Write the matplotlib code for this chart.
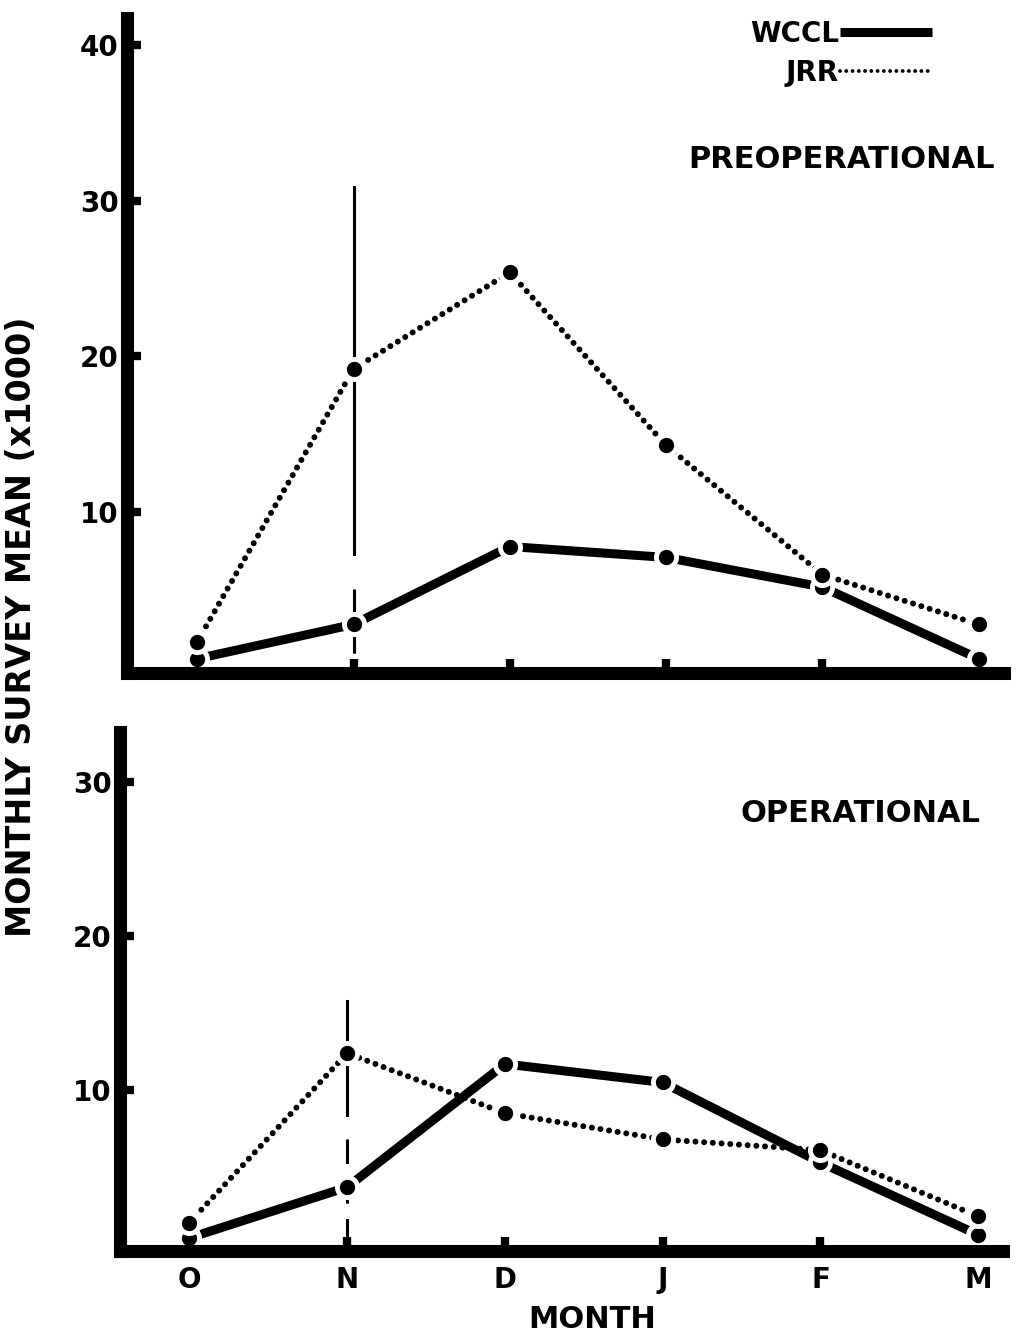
import matplotlib
matplotlib.use("Agg")
import matplotlib.pyplot as plt
from matplotlib.lines import Line2D

# ---------------- data ----------------
months = ['O', 'N', 'D', 'J', 'F', 'M']
pre_wccl = [0.6, 2.8, 7.8, 7.1, 5.2, 0.6]
pre_jrr = [1.7, 19.2, 25.4, 14.3, 6.0, 2.8]
op_wccl = [0.4, 3.7, 11.7, 10.5, 5.3, 0.6]
op_jrr = [1.4, 12.4, 8.5, 6.8, 6.1, 1.8]
# vertical bar at N (upper solid part, lower dashed part)
pre_bar_upper = [30.9, 7.3]
pre_bar_lower = [5.1, 0.0]
op_bar_upper = [15.8, 8.4]
op_bar_lower = [6.8, 0.0]
bar_month = 'N'
pre_yticks = [10, 20, 30, 40]
op_yticks = [10, 20, 30]
legend_labels = ['WCCL', 'JRR']
panel_titles = ['PREOPERATIONAL', 'OPERATIONAL']

plt.rcParams['font.family'] = ['DejaVu Sans']
plt.rcParams['font.weight'] = 'bold'

W, H = 1017, 1341
fig = plt.figure(figsize=(W / 100, H / 100), dpi=100)
fig.patch.set_facecolor('white')

ax_top = fig.add_axes([127 / W, 1 - 673 / H, (1003.5 - 127) / W, (673 - 18.5) / H])
ax_bot = fig.add_axes([120 / W, 1 - 1251 / H, (1003.5 - 120) / W, (1251 - 731.5) / H])

x = list(range(len(months)))
xb = months.index(bar_month)

dot_style = (0, (0.01, 1.45))


def draw_panel(ax, wccl, jrr, bar_up, bar_low, yticks, ylim, xlim, title, title_xy):
    ax.set_facecolor('white')
    # lines
    ax.plot(x, wccl, color='black', lw=6.5, solid_capstyle='butt', zorder=2)
    ax.plot(x, jrr, color='black', lw=4.3, linestyle=dot_style,
            dash_capstyle='round', zorder=2)
    ax.plot([xb, xb], bar_up, color='black', lw=2.2, zorder=2)
    ax.plot([xb, xb], bar_low, color='black', lw=2.2, linestyle=(0, (8, 5)),
            zorder=2)
    # markers with white halo
    for vals in (wccl, jrr):
        ax.plot(x, vals, linestyle='none', marker='o', markersize=14.5,
                markerfacecolor='black', markeredgecolor='white',
                markeredgewidth=3.5, zorder=3, clip_on=False)
    ax.set_xlim(*xlim)
    ax.set_ylim(*ylim)
    ax.set_xticks(x)
    ax.set_yticks(yticks)
    for s in ('top', 'right'):
        ax.spines[s].set_visible(False)
    for s in ('left', 'bottom'):
        ax.spines[s].set_linewidth(9.4)
        ax.spines[s].set_zorder(4)
        ax.spines[s].set_capstyle('projecting')
    ax.tick_params(axis='both', direction='in', length=10, width=6,
                   color='black', labelsize=20)
    ax.tick_params(axis='y', pad=6)
    ax.tick_params(axis='x', pad=11)
    ax.text(title_xy[0], title_xy[1], title, transform=fig.transFigure,
            ha='right', va='center', fontsize=22, fontweight='bold')


draw_panel(ax_top, pre_wccl, pre_jrr, pre_bar_upper, pre_bar_lower,
           pre_yticks, (-0.32, 41.7), (-0.45, 5.16), panel_titles[0],
           (995 / W, 1 - 160 / H))
draw_panel(ax_bot, op_wccl, op_jrr, op_bar_upper, op_bar_lower,
           op_yticks, (-0.45, 33.3), (-0.44, 5.16), panel_titles[1],
           (980 / W, 1 - 814 / H))

ax_top.set_xticklabels([])
ax_bot.set_xticklabels(months)

# legend
handles = [Line2D([], [], color='black', lw=6.5, solid_capstyle='butt'),
           Line2D([], [], color='black', lw=2.8, linestyle=(0, (0.01, 1.6)),
                  dash_capstyle='round')]
ax_top.legend(handles, legend_labels, markerfirst=False, frameon=False,
              loc='upper right', bbox_to_anchor=(932 / W, 1 - 20 / H),
              bbox_transform=fig.transFigure, borderaxespad=0, borderpad=0,
              handlelength=3.3, handletextpad=0.05, labelspacing=0.4,
              prop={'size': 20, 'weight': 'bold'})

fig.text(22 / W, 1 - 627 / H, 'MONTHLY SURVEY MEAN (x1000)', rotation=90,
         ha='center', va='center', fontsize=24, fontweight='bold')
fig.text(592 / W, 1 - 1320 / H, 'MONTH', ha='center', va='center',
         fontsize=22, fontweight='bold')

fig.savefig('out.png', dpi=100, facecolor='white')
